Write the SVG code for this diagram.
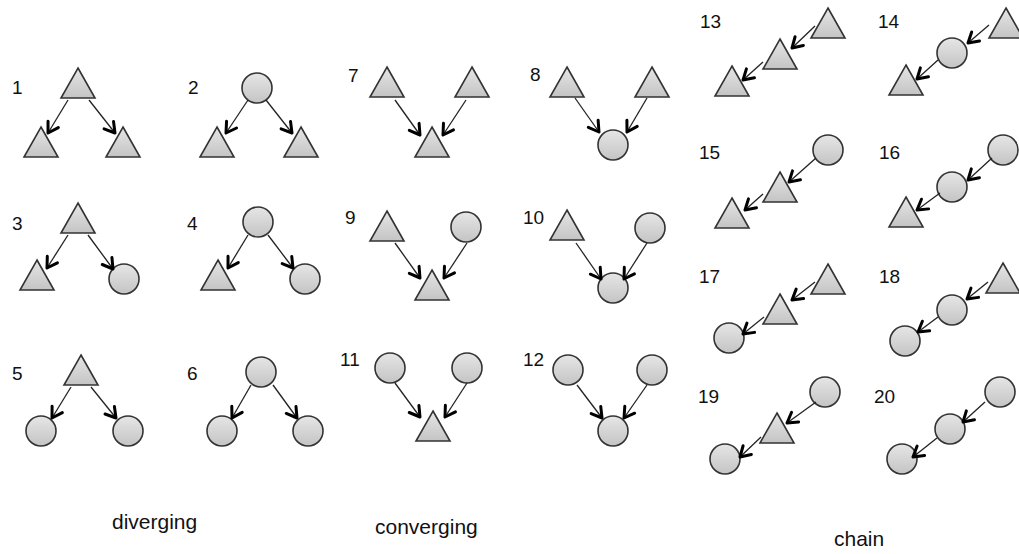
<svg xmlns="http://www.w3.org/2000/svg" xmlns:xlink="http://www.w3.org/1999/xlink" width="1019" height="554" viewBox="0 0 1019 554">
<style>
.node{fill:url(#g);stroke:#333;stroke-width:1.6}
.lbl{font-family:"Liberation Sans",Arial,sans-serif;font-size:19px;fill:#111}
.cap{font-family:"Liberation Sans",Arial,sans-serif;font-size:21px;fill:#111}
.edge{stroke:#222;stroke-width:1.3;fill:none;marker-end:url(#arr)}
</style>
<defs>
<linearGradient id="g" x1="0" y1="0" x2="0" y2="1">
<stop offset="0" stop-color="#e6e6e6"/>
<stop offset="1" stop-color="#c4c4c4"/>
</linearGradient>
<marker id="arr" markerUnits="userSpaceOnUse" viewBox="-13 -8 15 16" refX="0" refY="0" markerWidth="15" markerHeight="16" orient="auto">
<path d="M-10,-6 L0,0 L-10,6" fill="none" stroke="#000" stroke-width="3" stroke-linejoin="round" stroke-linecap="round"/>
</marker>
<path id="tri" d="M0,0 L17,30 L-17,30 Z"/>
<circle id="circ" cx="0" cy="0" r="15"/>
</defs>
<rect width="1019" height="554" fill="#fff"/>

<g id="m1">
<g id="m1-a"><use xlink:href="#tri" class="node" x="78" y="68"/></g>
<g id="m1-b"><use xlink:href="#tri" class="node" x="41" y="127"/></g>
<g id="m1-c"><use xlink:href="#tri" class="node" x="123" y="127"/></g>
</g>
<g id="m2">
<g id="m2-a"><use xlink:href="#circ" class="node" x="257" y="88"/></g>
<g id="m2-b"><use xlink:href="#tri" class="node" x="217" y="127"/></g>
<g id="m2-c"><use xlink:href="#tri" class="node" x="301" y="127"/></g>
</g>
<g id="m3">
<g id="m3-a"><use xlink:href="#tri" class="node" x="78" y="203"/></g>
<g id="m3-b"><use xlink:href="#tri" class="node" x="37" y="260"/></g>
<g id="m3-c"><use xlink:href="#circ" class="node" x="124" y="279"/></g>
</g>
<g id="m4">
<g id="m4-a"><use xlink:href="#circ" class="node" x="258" y="222"/></g>
<g id="m4-b"><use xlink:href="#tri" class="node" x="218" y="260"/></g>
<g id="m4-c"><use xlink:href="#circ" class="node" x="305" y="279"/></g>
</g>
<g id="m5">
<g id="m5-a"><use xlink:href="#tri" class="node" x="81" y="355"/></g>
<g id="m5-b"><use xlink:href="#circ" class="node" x="41" y="431"/></g>
<g id="m5-c"><use xlink:href="#circ" class="node" x="128" y="431"/></g>
</g>
<g id="m6">
<g id="m6-a"><use xlink:href="#circ" class="node" x="261" y="372"/></g>
<g id="m6-b"><use xlink:href="#circ" class="node" x="222" y="431"/></g>
<g id="m6-c"><use xlink:href="#circ" class="node" x="308" y="431"/></g>
</g>
<g id="m7">
<g id="m7-a"><use xlink:href="#tri" class="node" x="387" y="67"/></g>
<g id="m7-b"><use xlink:href="#tri" class="node" x="472" y="67"/></g>
<g id="m7-c"><use xlink:href="#tri" class="node" x="432" y="127"/></g>
</g>
<g id="m8">
<g id="m8-a"><use xlink:href="#tri" class="node" x="567" y="67"/></g>
<g id="m8-b"><use xlink:href="#tri" class="node" x="652" y="67"/></g>
<g id="m8-c"><use xlink:href="#circ" class="node" x="613" y="145"/></g>
</g>
<g id="m9">
<g id="m9-a"><use xlink:href="#tri" class="node" x="387" y="211"/></g>
<g id="m9-b"><use xlink:href="#circ" class="node" x="466" y="227"/></g>
<g id="m9-c"><use xlink:href="#tri" class="node" x="432" y="270"/></g>
</g>
<g id="m10">
<g id="m10-a"><use xlink:href="#tri" class="node" x="567" y="210"/></g>
<g id="m10-b"><use xlink:href="#circ" class="node" x="650" y="228"/></g>
<g id="m10-c"><use xlink:href="#circ" class="node" x="613" y="288"/></g>
</g>
<g id="m11">
<g id="m11-a"><use xlink:href="#circ" class="node" x="390" y="368"/></g>
<g id="m11-b"><use xlink:href="#circ" class="node" x="467" y="368"/></g>
<g id="m11-c"><use xlink:href="#tri" class="node" x="433" y="411"/></g>
</g>
<g id="m12">
<g id="m12-a"><use xlink:href="#circ" class="node" x="568" y="370"/></g>
<g id="m12-b"><use xlink:href="#circ" class="node" x="652" y="370"/></g>
<g id="m12-c"><use xlink:href="#circ" class="node" x="613" y="431"/></g>
</g>
<g id="m13">
<g id="m13-a"><use xlink:href="#tri" class="node" x="828" y="8"/></g>
<g id="m13-b"><use xlink:href="#tri" class="node" x="780" y="39"/></g>
<g id="m13-c"><use xlink:href="#tri" class="node" x="732" y="66"/></g>
</g>
<g id="m14">
<g id="m14-a"><use xlink:href="#tri" class="node" x="1006" y="8"/></g>
<g id="m14-b"><use xlink:href="#circ" class="node" x="952" y="53"/></g>
<g id="m14-c"><use xlink:href="#tri" class="node" x="906" y="65"/></g>
</g>
<g id="m15">
<g id="m15-a"><use xlink:href="#circ" class="node" x="828" y="150"/></g>
<g id="m15-b"><use xlink:href="#tri" class="node" x="780" y="172"/></g>
<g id="m15-c"><use xlink:href="#tri" class="node" x="732" y="198"/></g>
</g>
<g id="m16">
<g id="m16-a"><use xlink:href="#circ" class="node" x="1003" y="150"/></g>
<g id="m16-b"><use xlink:href="#circ" class="node" x="952" y="187"/></g>
<g id="m16-c"><use xlink:href="#tri" class="node" x="906" y="197"/></g>
</g>
<g id="m17">
<g id="m17-a"><use xlink:href="#tri" class="node" x="828" y="264"/></g>
<g id="m17-b"><use xlink:href="#tri" class="node" x="780" y="294"/></g>
<g id="m17-c"><use xlink:href="#circ" class="node" x="729" y="338"/></g>
</g>
<g id="m18">
<g id="m18-a"><use xlink:href="#tri" class="node" x="1003" y="263"/></g>
<g id="m18-b"><use xlink:href="#circ" class="node" x="952" y="310"/></g>
<g id="m18-c"><use xlink:href="#circ" class="node" x="905" y="341"/></g>
</g>
<g id="m19">
<g id="m19-a"><use xlink:href="#circ" class="node" x="825" y="392"/></g>
<g id="m19-b"><use xlink:href="#tri" class="node" x="777" y="413"/></g>
<g id="m19-c"><use xlink:href="#circ" class="node" x="725" y="459"/></g>
</g>
<g id="m20">
<g id="m20-a"><use xlink:href="#circ" class="node" x="1000" y="392"/></g>
<g id="m20-b"><use xlink:href="#circ" class="node" x="950" y="429"/></g>
<g id="m20-c"><use xlink:href="#circ" class="node" x="902" y="459"/></g>
</g>

<g id="connectors">
<line class="edge" x1="68" y1="100" x2="48" y2="133"/>
<line class="edge" x1="89" y1="100" x2="115" y2="133"/>
<line class="edge" x1="248" y1="100" x2="226" y2="133"/>
<line class="edge" x1="266" y1="100" x2="292" y2="133"/>
<line class="edge" x1="68" y1="235" x2="47" y2="268"/>
<line class="edge" x1="88" y1="235" x2="113" y2="269"/>
<line class="edge" x1="248" y1="235" x2="228" y2="268"/>
<line class="edge" x1="268" y1="235" x2="293" y2="268"/>
<line class="edge" x1="71" y1="387" x2="52" y2="418"/>
<line class="edge" x1="91" y1="387" x2="116" y2="418"/>
<line class="edge" x1="251" y1="385" x2="232" y2="418"/>
<line class="edge" x1="273" y1="385" x2="297" y2="418"/>
<line class="edge" x1="395" y1="100" x2="420" y2="135"/>
<line class="edge" x1="466" y1="100" x2="443" y2="135"/>
<line class="edge" x1="575" y1="98" x2="599" y2="132"/>
<line class="edge" x1="647" y1="98" x2="627" y2="132"/>
<line class="edge" x1="395" y1="243" x2="420" y2="278"/>
<line class="edge" x1="467" y1="243" x2="444" y2="278"/>
<line class="edge" x1="576" y1="243" x2="601" y2="279"/>
<line class="edge" x1="647" y1="243" x2="624" y2="279"/>
<line class="edge" x1="395" y1="383" x2="420" y2="417"/>
<line class="edge" x1="467" y1="383" x2="445" y2="417"/>
<line class="edge" x1="577" y1="385" x2="602" y2="418"/>
<line class="edge" x1="647" y1="385" x2="624" y2="418"/>
<line class="edge" x1="815" y1="26" x2="792" y2="48"/>
<line class="edge" x1="763" y1="62" x2="743" y2="80"/>
<line class="edge" x1="989" y1="25" x2="968" y2="43"/>
<line class="edge" x1="938" y1="60" x2="917" y2="79"/>
<line class="edge" x1="816" y1="158" x2="789" y2="182"/>
<line class="edge" x1="763" y1="194" x2="745" y2="210"/>
<line class="edge" x1="992" y1="158" x2="968" y2="180"/>
<line class="edge" x1="940" y1="193" x2="917" y2="210"/>
<line class="edge" x1="815" y1="282" x2="792" y2="300"/>
<line class="edge" x1="764" y1="317" x2="743" y2="334"/>
<line class="edge" x1="988" y1="282" x2="967" y2="299"/>
<line class="edge" x1="938" y1="317" x2="918" y2="332"/>
<line class="edge" x1="816" y1="402" x2="787" y2="423"/>
<line class="edge" x1="761" y1="437" x2="740" y2="457"/>
<line class="edge" x1="985" y1="402" x2="963" y2="422"/>
<line class="edge" x1="937" y1="438" x2="913" y2="457"/>
</g>

<g id="labels">
<text class="lbl" x="12" y="94">1</text>
<text class="lbl" x="188" y="94">2</text>
<text class="lbl" x="12" y="230">3</text>
<text class="lbl" x="187" y="230">4</text>
<text class="lbl" x="12" y="380">5</text>
<text class="lbl" x="187" y="380">6</text>
<text class="lbl" x="348" y="82">7</text>
<text class="lbl" x="530" y="81">8</text>
<text class="lbl" x="345" y="224">9</text>
<text class="lbl" x="523" y="224">10</text>
<text class="lbl" x="340" y="366">11</text>
<text class="lbl" x="523" y="366">12</text>
<text class="lbl" x="700" y="28">13</text>
<text class="lbl" x="878" y="28">14</text>
<text class="lbl" x="699" y="159">15</text>
<text class="lbl" x="879" y="159">16</text>
<text class="lbl" x="699" y="283">17</text>
<text class="lbl" x="879" y="283">18</text>
<text class="lbl" x="698" y="403">19</text>
<text class="lbl" x="874" y="403">20</text>
<text class="cap" x="112" y="529">diverging</text>
<text class="cap" x="375" y="534">converging</text>
<text class="cap" x="834" y="546">chain</text>
</g>
</svg>
